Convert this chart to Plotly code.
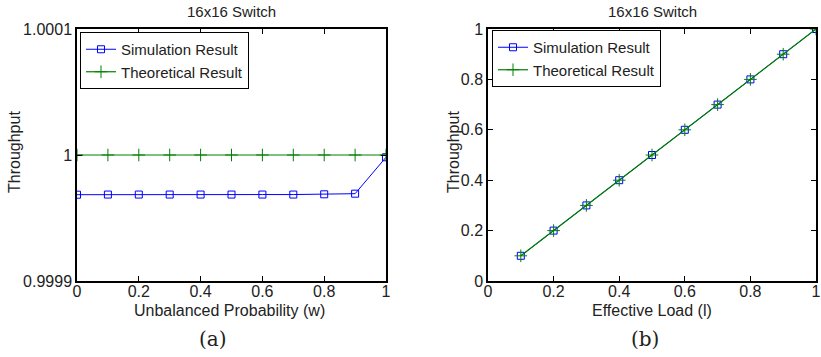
import plotly.graph_objects as go

W, H = 821, 357

# ---- data ----
w_vals = [0.0, 0.1, 0.2, 0.3, 0.4, 0.5, 0.6, 0.7, 0.8, 0.9, 1.0]
sim_a = [0.9999685, 0.9999686, 0.9999686, 0.9999686, 0.9999686, 0.9999686,
         0.9999686, 0.9999686, 0.9999688, 0.9999693, 0.9999982]
theo_a = [1.0] * 11

load_vals = [0.1, 0.2, 0.3, 0.4, 0.5, 0.6, 0.7, 0.8, 0.9, 1.0]
sim_b = [0.1, 0.2, 0.3, 0.4, 0.5, 0.6, 0.7, 0.8, 0.9, 1.0]
theo_b = [0.1, 0.2, 0.3, 0.4, 0.5, 0.6, 0.7, 0.8, 0.9, 1.0]

a_yticks = [0.9999, 1.0, 1.0001]
a_yticklabels = ["0.9999", "1", "1.0001"]
x_ticks = [0, 0.2, 0.4, 0.6, 0.8, 1]
x_ticklabels = ["0", "0.2", "0.4", "0.6", "0.8", "1"]
b_yticks = [0, 0.2, 0.4, 0.6, 0.8, 1]
b_yticklabels = ["0", "0.2", "0.4", "0.6", "0.8", "1"]

BLUE = "#0000FF"
GREEN = "#008000"
TXT = "#222222"
FONT = "Liberation Sans"
SERIF = "DejaVu Serif"

def px_x(p):
    return p / W

def px_y(p):
    return 1 - p / H

fig = go.Figure()

sim_style = dict(mode="lines+markers", line=dict(color=BLUE, width=1),
                 marker=dict(symbol="square-open", size=7, color=BLUE, line=dict(width=1, color=BLUE)))
theo_style = dict(mode="lines+markers", line=dict(color=GREEN, width=1.2),
                  marker=dict(symbol="cross-thin-open", size=9, color=GREEN, line=dict(width=1, color=GREEN)))

fig.add_trace(go.Scatter(x=w_vals, y=sim_a, name="Simulation Result", xaxis="x", yaxis="y",
                         legend="legend", **sim_style))
fig.add_trace(go.Scatter(x=w_vals, y=theo_a, name="Theoretical Result", xaxis="x", yaxis="y",
                         legend="legend", **theo_style))
fig.add_trace(go.Scatter(x=load_vals, y=sim_b, name="Simulation Result", xaxis="x2", yaxis="y2",
                         legend="legend2", **sim_style))
fig.add_trace(go.Scatter(x=load_vals, y=theo_b, name="Theoretical Result", xaxis="x2", yaxis="y2",
                         legend="legend2", **theo_style))

axis_common = dict(showgrid=False, zeroline=False, showline=True, linecolor="black", linewidth=1.5,
                   mirror="ticks", ticks="inside", ticklen=5, tickcolor="black", tickwidth=1,
                   automargin=False,
                   tickfont=dict(family=FONT, size=16, color=TXT))

ydom = [px_y(281), px_y(29)]
leg_common = dict(xanchor="left", yanchor="top", bgcolor="white",
                  bordercolor="black", borderwidth=1, font=dict(family=FONT, size=15, color=TXT),
                  tracegroupgap=0, itemwidth=30)
fig.update_layout(
    width=W, height=H, margin=dict(l=0, r=0, t=0, b=0, autoexpand=False),
    paper_bgcolor="white", plot_bgcolor="white",
    font=dict(family=FONT, color=TXT),
    xaxis=dict(domain=[px_x(77), px_x(386)], range=[0, 1], tickvals=x_ticks, ticktext=x_ticklabels,
               anchor="y", ticklabelstandoff=-5, **axis_common),
    yaxis=dict(domain=ydom, range=[0.9999, 1.0001], tickvals=a_yticks, ticktext=a_yticklabels,
               anchor="x", **axis_common),
    xaxis2=dict(domain=[px_x(488), px_x(816)], range=[0, 1], tickvals=x_ticks, ticktext=x_ticklabels,
                anchor="y2", ticklabelstandoff=-5, **axis_common),
    yaxis2=dict(domain=ydom, range=[0, 1], tickvals=b_yticks, ticktext=b_yticklabels,
                anchor="x2", **axis_common),
    legend=dict(x=px_x(80), y=px_y(32), **leg_common),
    legend2=dict(x=px_x(492), y=px_y(30), **leg_common),
    showlegend=True,
)

ann = []
def text(x, y, s, size, angle=0, family=FONT):
    ann.append(dict(x=px_x(x), y=px_y(y), xref="paper", yref="paper", text=s, showarrow=False,
                    textangle=angle, font=dict(family=family, size=size, color=TXT),
                    xanchor="center", yanchor="middle"))

text(231, 12, "16x16 Switch", 15)
text(652, 12, "16x16 Switch", 15)
text(230, 310, "Unbalanced Probability (w)", 16)
text(652, 310, "Effective Load (l)", 16)
text(14, 152, "Throughput", 16, angle=-90)
text(453, 152, "Throughput", 16, angle=-90)
text(213, 339, "(a)", 20, family=SERIF)
text(645, 339, "(b)", 20, family=SERIF)
fig.update_layout(annotations=ann)

fig.write_html("out.html", config={"displayModeBar": False},
               post_script="document.body.style.margin='0';document.body.style.padding='0';")
